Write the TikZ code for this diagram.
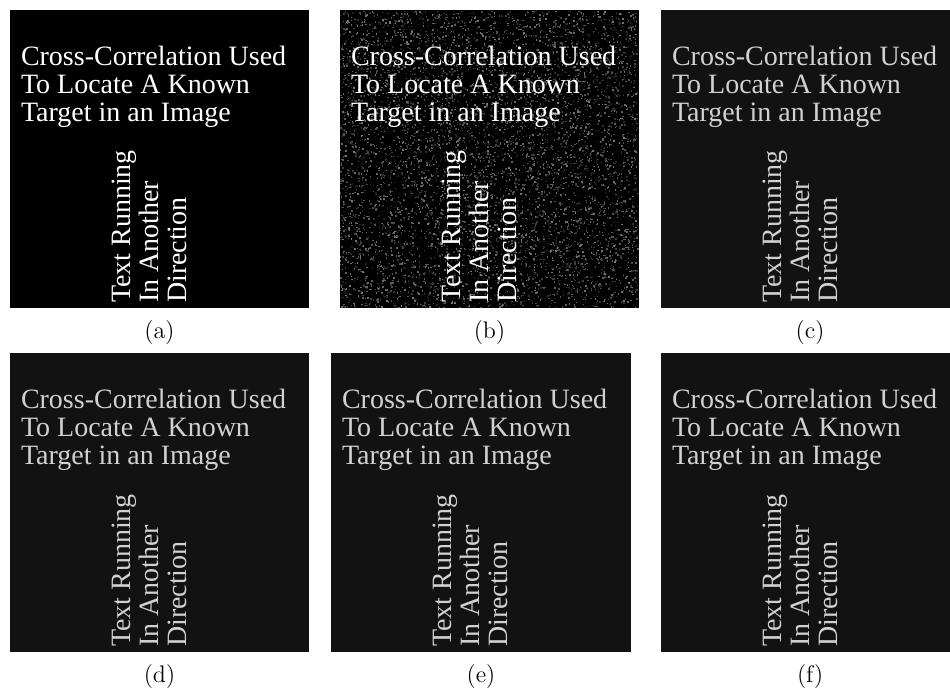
\documentclass[tikz,border=0pt]{standalone}
\usepackage{fontspec}
\newfontfamily\imgfont{Liberation Serif}
\usetikzlibrary{positioning, calc}
\definecolor{grainbg}{gray}{0.07}
\definecolor{fadedtext}{gray}{0.82}
\tikzset{
  panel/.style={rectangle,fill=black,inner sep=0pt,minimum width=149.5pt,minimum height=149.5pt},
  headtext/.style={anchor=north west,inner sep=0pt,align=left,font=\imgfont\fontsize{14}{14}\selectfont},
  sidetext/.style={headtext,rotate=90},
  sublabel/.style={inner sep=0pt,font=\fontsize{12}{12}\selectfont}
}

\begin{document}
\begin{tikzpicture}[x=0.5pt,y=0.5pt,node distance=6pt]
\useasboundingbox (0,0) rectangle (950,690);
% top row: original, noisy, filtered
\node[panel, minimum height=149pt] (pa) at (159.5,531) {};
\node[panel, minimum height=149pt] (pb) at (489.5,531) {};
\node[panel, minimum height=149pt, minimum width=144.5pt, fill=grainbg] (pc) at (805.5,531) {};
% bottom row: filtered results
\node[panel, fill=grainbg] (pd) at (159.5,187.5) {};
\node[panel, minimum width=150pt, fill=grainbg] (pe) at (481,187.5) {};
\node[panel, minimum width=144.5pt, fill=grainbg] (pf) at (805.5,187.5) {};

% speckle noise on (b)
\pgfmathsetseed{42}
\foreach \k in {1,...,7000}{
  \pgfmathsetmacro{\nx}{rnd*297.5}
  \pgfmathsetmacro{\ny}{rnd*296.5}
  \pgfmathtruncatemacro{\ng}{8+40*rnd}
  \fill[white!\ng!black] (pb.south west) ++(\nx,\ny) rectangle ++(1.5,1.5);
}

\foreach \p/\c in {pa/white, pb/white, pc/fadedtext, pd/fadedtext, pe/fadedtext, pf/fadedtext}{
  \node[headtext, text=\c] (h\p) at ($(\p.north west)+(11,-36)$)
    {Cross-Correlation Used\\To Locate A Known\\Target in an Image};
  \node[sidetext, text=\c] (s\p) at ($(\p.south west)+(102,5)$)
    {Text Running\\In Another\\Direction};
}

\node[sublabel, below=of pa] (la) {(a)};
\node[sublabel, below=of pb] (lb) {(b)};
\node[sublabel, below=of pc.south west, xshift=74.75pt] (lc) {(c)};
\node[sublabel, below=of pd] (ld) {(d)};
\node[sublabel, below=of pe] (le) {(e)};
\node[sublabel, below=of pf.south west, xshift=74.75pt] (lf) {(f)};
\end{tikzpicture}
\end{document}
